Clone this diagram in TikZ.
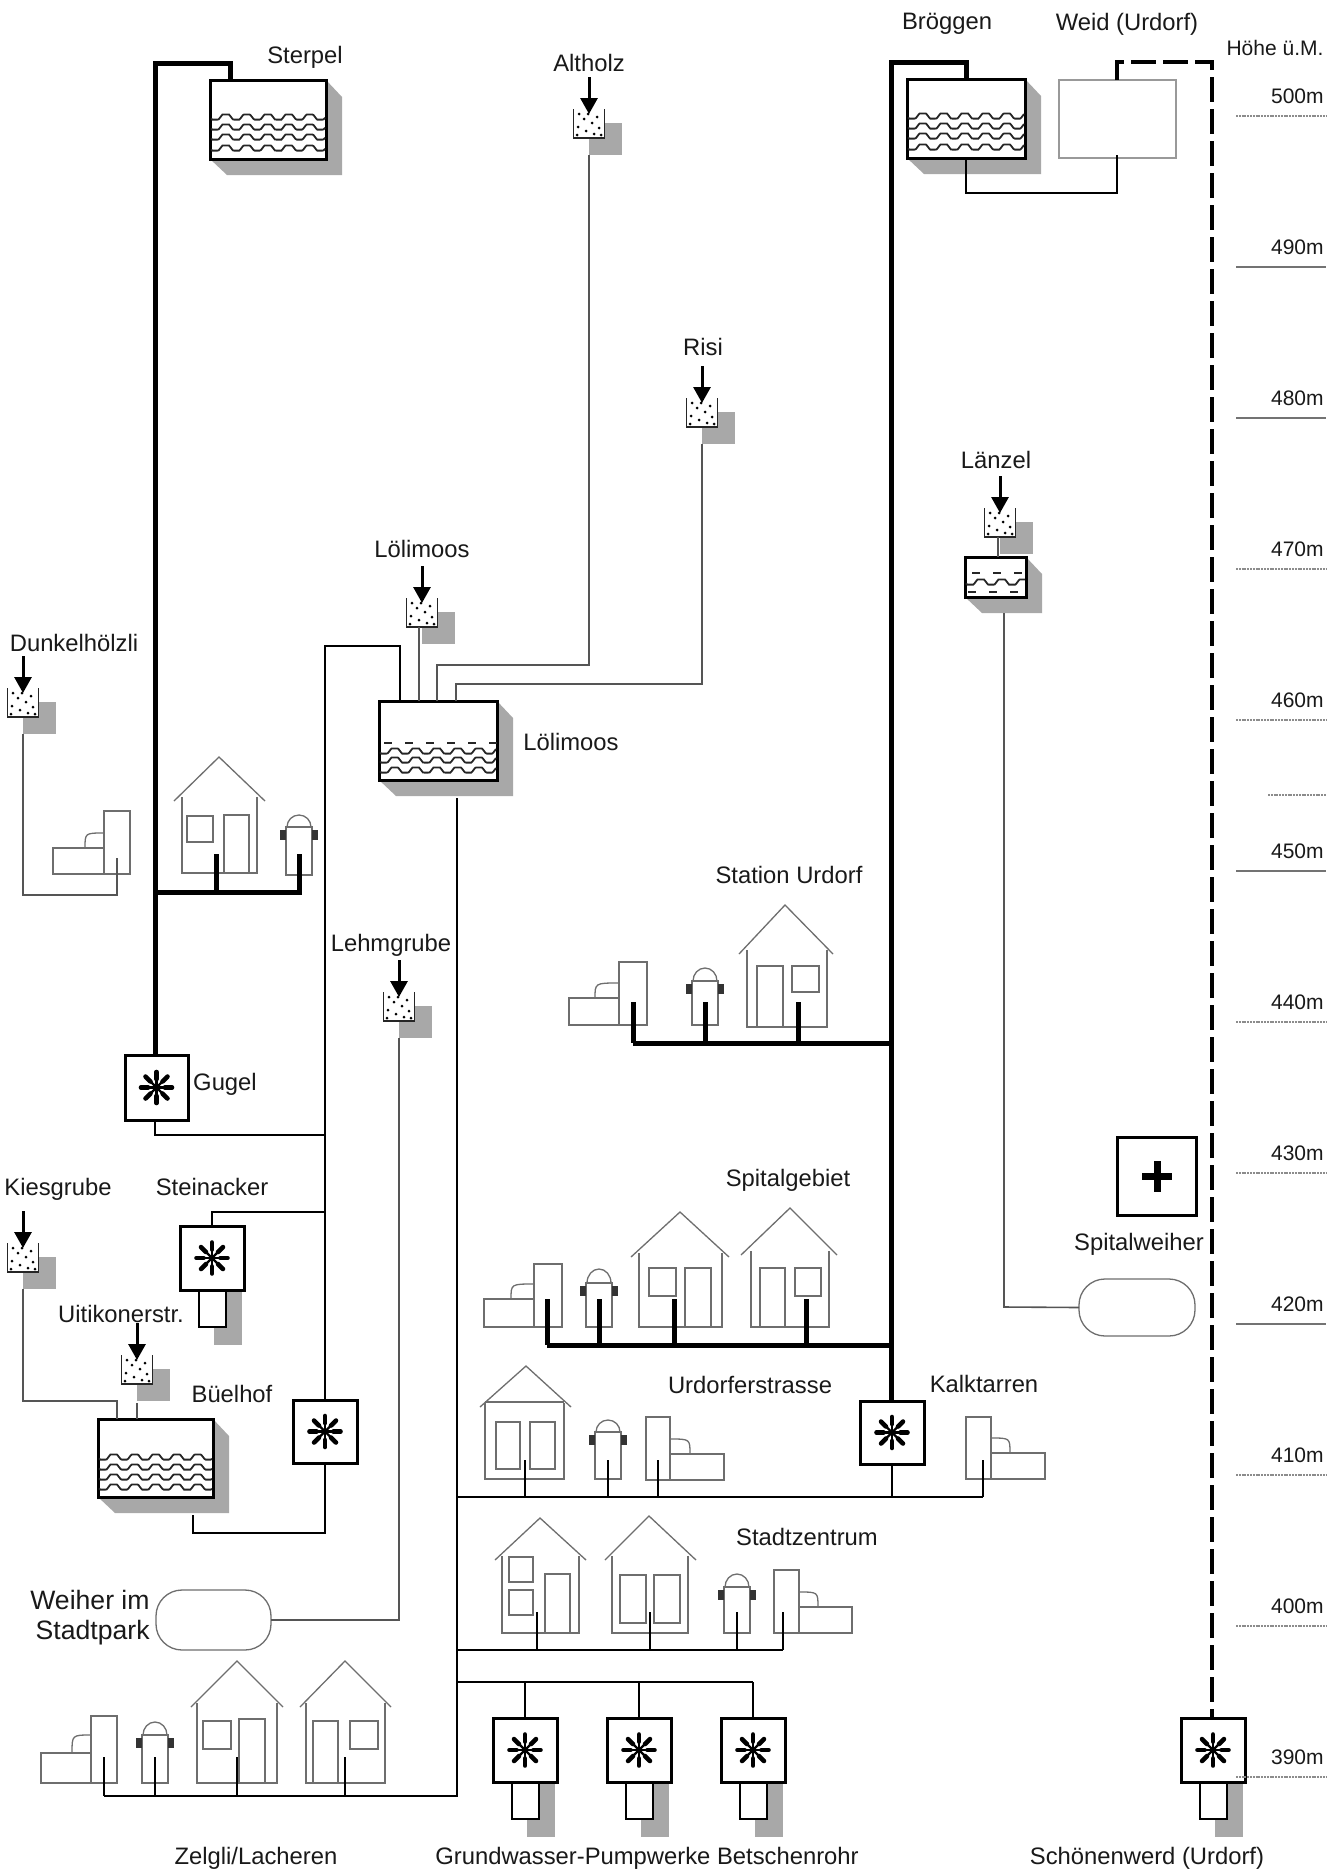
\documentclass[tikz,border=0pt]{standalone}
\usepackage{fontspec}
\setmainfont{Liberation Sans}
\usetikzlibrary{arrows.meta}
\newcommand\px{0.5pt}
\definecolor{shadowgray}{HTML}{A8A8A8}
\definecolor{sketch}{HTML}{6E6E6E}
\definecolor{thinline}{HTML}{555555}
\tikzset{
  lbl/.style={font=\fontsize{11.9pt}{13pt}\selectfont,inner sep=0pt,text=black!90},
  lblbig/.style={font=\fontsize{13.3pt}{16pt}\selectfont,inner sep=0pt,text=black!90},
  lblsmall/.style={font=\fontsize{10.5pt}{12pt}\selectfont,inner sep=0pt,text=black!90},
  pipe/.style={draw=black,line width=1.2pt,line join=miter},
  thickpipe/.style={draw=black,line width=2.5pt,line join=miter},
  graypipe/.style={draw=thinline,line width=0.8pt,line join=miter},
  dashpipe/.style={draw=black,line width=1.6pt,dash pattern=on 12.5pt off 3.5pt},
  sk/.style={draw=sketch,line width=0.65pt},
  tankbox/.style={draw=black,line width=1.5pt,fill=white,inner sep=0pt,outer sep=0pt},
  pumpbox/.style={draw=black,line width=1.5pt,fill=white,inner sep=0pt,outer sep=0pt},
  cupbox/.style={fill=white,inner sep=0pt,outer sep=0pt},
  wavy/.style={draw=black!85,line width=0.9pt},
  wavedash/.style={draw=black!85,line width=1pt,dash pattern=on 4pt off 6.5pt},
  pondbox/.style={draw=sketch,line width=0.65pt,fill=white,rounded corners=13pt,inner sep=0pt,outer sep=0pt},
  lvl/.style={draw=black!55,line width=0.65pt},
  lvldot/.style={draw=black!45,line width=0.7pt,dash pattern=on 1pt off 0.4pt},
  dropin/.style={draw=black,line width=1.5pt,-{Triangle[length=8pt,width=8.5pt]}},
}
% \TankBox{name}{x1}{y1}{x2}{y2}{wave offsets}
\newcommand\TankBox[6]{%
  \fill[shadowgray] (#4,#3) -- (#4+16,#3+17) -- (#4+16,#5+16) -- (#2+17,#5+16) -- (#2,#5) -- cycle;
  \node[tankbox,minimum width={(#4-#2)*\px},minimum height={(#5-#3)*\px}] (#1) at ({(#2+#4)/2},{(#3+#5)/2}) {};
  \foreach \w in {#6}{\draw[wavy] plot[domain=#2+1:#4-1,samples=90] (\x,{#3+\w+max(-2.6,min(2.6,4.5*sin(17.14*(\x-#2))))});}
}
% \Filter{name}{cx}{top}
\newcommand\Filter[3]{%
  \fill[shadowgray] (#2,#3+14) rectangle (#2+33,#3+46);
  \node[cupbox,minimum width=31*\px,minimum height=29*\px] (#1) at (#2,#3+14.5) {};
  \draw[draw=black!85,line width=0.7pt] (#2-15.5,#3) -- (#2-15.5,#3+29) -- (#2+15.5,#3+29) -- (#2+15.5,#3);
  \foreach \dx/\dy in {-10/5,-5/10,-11/18,-3/22,3/14,8/8,10/19,5/25,-12/26,12/26,-1/5}{\fill[black] (#2+\dx,#3+\dy) circle[radius=1.5];}
  \coordinate (#1-in) at (#2,#3-32);
  \draw[dropin] (#1-in) -- (#2,#3+5);
}
% \Star{node}
\newcommand\Star[1]{%
  \begin{scope}[shift={(#1.center)}]
    \foreach \a in {0,45,...,315}{%
      \draw[black,line width=1.1pt] (0,0) -- (\a:17);
      \draw[black,line width=2.3pt,line cap=round] (\a:8.5) -- (\a:15.5);}
  \end{scope}
}
% \Pump{name}{x1}{y1}{x2}{y2}
\newcommand\Pump[5]{%
  \node[pumpbox,minimum width={(#4-#2)*\px},minimum height={(#5-#3)*\px}] (#1) at ({(#2+#4)/2},{(#3+#5)/2}) {};
  \Star{#1}
}
% \WellPump{name}{x1}{y1}  (64 square box with well shaft under it)
\newcommand\WellPump[3]{%
  \fill[shadowgray] (#2+34,#3+64) rectangle (#2+62,#3+119);
  \draw[draw=black,line width=1.4pt,fill=white] (#2+19,#3+64) rectangle (#2+46,#3+101);
  \Pump{#1}{#2}{#3}{#2+64}{#3+64}
}
% \House{apexx}{apexy}{eaveL}{eaveR}{eaveY}{wallL}{wallR}{bottom}
\newcommand\House[8]{%
  \draw[sk] (#3,#5) -- (#1,#2) -- (#4,#5);
  \draw[sk] (#6,#5-4) -- (#6,#8) -- (#7,#8) -- (#7,#5-4);
}
\newcommand\Win[4]{\draw[sk] (#1,#2) rectangle (#3,#4);}
% \Hydrant{cx}{dometop}{bodytop}{bottom}
\newcommand\Hydrant[4]{%
  \draw[sk] (#1-13,#3) rectangle (#1+13,#4);
  \draw[sk] (#1-12,#3) arc[start angle=180,end angle=360,x radius=12,y radius=#3-#2];
  \fill[black!80] (#1-19,#3+3) rectangle (#1-13,#3+13);
  \fill[black!80] (#1+13,#3+3) rectangle (#1+19,#3+13);
}
% \Plant{tallL}{tallR}{tallTop}{lowFar}{lowNear}{lowTop}{bottom}{arcx}{arcTop}
\newcommand\Plant[9]{%
  \draw[sk] (#1,#3) rectangle (#2,#7);
  \draw[sk] (#4,#6) rectangle (#5,#7);
  \draw[sk] (#8,#6) .. controls (#8,#9) .. (#5,#9);
}
\begin{document}
\begin{tikzpicture}[x=0.5pt,y=-0.5pt,line cap=butt]
\useasboundingbox[fill=white] (0,0) rectangle (1341,1874);

%% ---------- storage tanks
\TankBox{tSterpel}{210}{80}{326}{159}{37,47,57,68}
\TankBox{tLoelimoos}{379}{701}{497}{780}{50,59,69}
\draw[wavedash] (384,743) -- (497,743);
\TankBox{tBuelhof}{98}{1419}{213}{1497}{38,48,58,68}
\TankBox{tBroeggen}{907}{79}{1025}{158}{37,47,57,68}
\node[draw=black!40,line width=0.9pt,fill=white,inner sep=0pt,outer sep=0pt,minimum width=117*\px,minimum height=78*\px] (tWeid) at (1117.5,119) {};

%% ---------- filters
\Filter{fAltholz}{589}{109}
\Filter{fRisi}{702}{398}
\Filter{fLoelimoos}{422}{598}
\Filter{fDunkel}{23}{688}
\Filter{fLehm}{399}{992}
\Filter{fLaenzel}{1000}{508}
\Filter{fKies}{23}{1243}
\Filter{fUitikon}{137}{1355}
\TankBox{tLaenzel}{965}{557}{1026}{597}{25}
\draw[wavedash] (972,573) -- (1026,573);
\draw[wavedash] (968,592) -- (1026,592);

%% ---------- ponds and Spital box
\node[pondbox,minimum width=116*\px,minimum height=57*\px] (pdSpital) at (1137,1307.5) {};
\node[pondbox,minimum width=115*\px,minimum height=60*\px] (pdStadt) at (213.5,1620) {};
\node[draw=black,line width=1.5pt,inner sep=0pt,minimum width=79*\px,minimum height=78*\px] (bSpital) at (1156.5,1176) {};
\fill[black] (1142,1173) rectangle (1172,1180);
\fill[black] (1153.5,1161) rectangle (1160.5,1192);

%% ---------- pumps
\Pump{pGugel}{125}{1055}{188}{1120}
\Pump{pBuelhof}{293}{1400}{357}{1463}
\Pump{pKalk}{860}{1401}{924}{1464}
\WellPump{pStein}{180}{1226}
\WellPump{pG1}{493}{1718}
\WellPump{pG2}{607}{1718}
\WellPump{pG3}{721}{1718}
\WellPump{pSchoen}{1181}{1718}

%% ---------- buildings: Dunkelhölzli
\Plant{104}{130}{811}{53}{104}{848}{874}{85}{833}
\House{219}{757}{174}{265}{801}{182}{257}{873}
\Win{187}{816}{213}{842}\Win{224}{815}{249}{873}
\Hydrant{299}{815}{827}{875}

%% Station Urdorf
\Plant{619}{647}{962}{569}{619}{998}{1025}{595}{983}
\Hydrant{705}{968}{981}{1025}
\House{785}{905}{739}{833}{954}{747}{827}{1027}
\Win{757}{966}{783}{1027}\Win{792}{966}{819}{992}

%% Spitalgebiet
\Plant{534}{562}{1264}{484}{534}{1299}{1327}{511}{1284}
\Hydrant{599}{1269}{1283}{1327}
\House{680}{1212}{631}{729}{1257}{639}{722}{1327}
\Win{649}{1268}{676}{1296}\Win{685}{1268}{711}{1327}
\House{790}{1208}{741}{837}{1255}{751}{829}{1327}
\Win{760}{1268}{785}{1327}\Win{795}{1268}{821}{1296}

%% Urdorferstrasse
\House{526}{1366}{480}{571}{1407}{485}{564}{1479}
\draw[sk] (485,1402) -- (564,1402);
\Win{496}{1422}{520}{1469}\Win{530}{1422}{555}{1469}
\Hydrant{608}{1420}{1432}{1479}
\Plant{646}{670}{1417}{724}{670}{1454}{1480}{690}{1439}
\Plant{966}{991}{1417}{1045}{991}{1453}{1479}{1010}{1438}

%% Stadtzentrum
\House{540}{1518}{495}{586}{1560}{502}{579}{1633}
\Win{509}{1557}{533}{1582}\Win{509}{1590}{533}{1615}\Win{545}{1574}{570}{1633}
\House{649}{1516}{605}{696}{1560}{612}{688}{1633}
\Win{620}{1575}{646}{1623}\Win{654}{1575}{680}{1623}
\Hydrant{737}{1574}{1587}{1633}
\Plant{774}{799}{1570}{852}{799}{1607}{1633}{818}{1592}

%% Zelgli
\Plant{91}{117}{1716}{41}{91}{1753}{1783}{72}{1735}
\Hydrant{155}{1722}{1735}{1783}
\House{237}{1661}{191}{283}{1707}{197}{277}{1783}
\Win{203}{1721}{231}{1749}\Win{239}{1719}{265}{1783}
\House{345}{1661}{300}{391}{1707}{306}{385}{1783}
\Win{313}{1721}{338}{1783}\Win{350}{1721}{378}{1749}

%% ---------- connector anchors
\coordinate (jS1) at (155,63);
\coordinate (jS2) at (230,63);
\coordinate (jS3) at (230,80);
\coordinate (jGugelB) at (155,1135);
\coordinate (jMainB) at (325,1135);
\coordinate (jMainT) at (325,646);
\coordinate (jLoeT) at (400,646);
\coordinate (jLoeIn) at (400,701);
\coordinate (jSteinT) at (212,1212);
\coordinate (jSteinM) at (325,1212);
\coordinate (jBueOut) at (193,1515);
\coordinate (jBueC) at (193,1533);
\coordinate (jBueD) at (325,1533);
\coordinate (jHydB) at (299,892);
\coordinate (jHouB) at (216,892);
\coordinate (jSterpB) at (155,892);
\coordinate (jHouT) at (216,854);
\coordinate (jHydT) at (299,854);
\coordinate (jLoeOut) at (457,798);
\coordinate (jLoeEnd) at (457,1796);
\coordinate (jUrdL) at (457,1497);
\coordinate (jUrdR) at (983,1497);
\coordinate (jStaL) at (457,1650);
\coordinate (jStaR) at (783,1650);
\coordinate (jGruL) at (457,1682);
\coordinate (jGruR) at (753,1682);
\coordinate (jZelR) at (104,1796);

%% ---------- thick pipes
\draw[thickpipe] (pGugel.north -| jS1) -- (jS1) -- (jS2) -- (jS3);
\draw[thickpipe] (jSterpB) -- (jHydB) -- (jHydT);
\draw[thickpipe] (jHouB) -- (jHouT);
\coordinate (jB1) at (891,62);
\coordinate (jB2) at (966,62);
\coordinate (jB3) at (966,79);
\coordinate (jKalkT) at (891,1401);
\draw[thickpipe] (jKalkT) -- (jB1) -- (jB2) -- (jB3);
% Station Urdorf
\coordinate (jSU1) at (633,1043);\coordinate (jSU2) at (891,1043);
\draw[thickpipe] (jSU1) -- (jSU2);
\coordinate (jSUa) at (633,1002);\coordinate (jSUb) at (705,1002);\coordinate (jSUc) at (798,1002);
\draw[thickpipe] (jSUa) -- (jSU1);
\draw[thickpipe] (jSUb) -- (jSUb |- jSU1);
\draw[thickpipe] (jSUc) -- (jSUc |- jSU1);
% Spitalgebiet
\coordinate (jSG1) at (547,1345);\coordinate (jSG2) at (891,1345);
\draw[thickpipe] (jSG1) -- (jSG2);
\coordinate (jSGa) at (547,1299);\coordinate (jSGb) at (599,1299);\coordinate (jSGc) at (674,1299);\coordinate (jSGd) at (806,1299);
\draw[thickpipe] (jSGa) -- (jSG1);
\draw[thickpipe] (jSGb) -- (jSGb |- jSG1);
\draw[thickpipe] (jSGc) -- (jSGc |- jSG1);
\draw[thickpipe] (jSGd) -- (jSGd |- jSG1);

%% ---------- normal pipes
\draw[pipe] (pGugel.south -| jGugelB) -- (jGugelB) -- (jMainB);
\draw[pipe] (jLoeIn) -- (jLoeT) -- (jMainT) -- (pBuelhof.north);
\draw[pipe] (pStein.north -| jSteinT) -- (jSteinT) -- (jSteinM);
\draw[pipe] (jBueOut) -- (jBueC) -- (jBueD) -- (pBuelhof.south);
\draw[pipe] (jLoeOut) -- (jLoeEnd) -- (jZelR);
\draw[pipe] (jUrdL) -- (jUrdR);
\draw[pipe] (jStaL) -- (jStaR);
\draw[pipe] (jGruL) -- (jGruR);
\draw[pipe] (jGruL -| pG1.north) -- (pG1.north);
\draw[pipe] (jGruL -| pG2.north) -- (pG2.north);
\draw[pipe] (jGruR) -- (pG3.north);
\draw[pipe] (pKalk.south) -- (pKalk.south |- jUrdL);
% stubs
\foreach \sx in {525,608,658,983}{\draw[pipe] (\sx,1460) -- (\sx,1497);}
\foreach \sx in {537,650,737,783}{\draw[pipe] (\sx,1612) -- (\sx,1650);}
\foreach \sx in {104,155,237,345}{\draw[pipe] (\sx,1757) -- (\sx,1796);}
% Bröggen - Weid
\coordinate (jW1) at (966,193);\coordinate (jW2) at (1117,193);\coordinate (jW3) at (1117,155);
\draw[pipe] (jB3 |- tBroeggen.south) -- (jW1) -- (jW2) -- (jW3);
\coordinate (jD1) at (1117,80);\coordinate (jD2) at (1117,62);\coordinate (jD3) at (1212,62);
\draw[dashpipe] (jD1) -- (jD2) -- (jD3) -- (pSchoen.north -| jD3);

%% ---------- gray pipes
\coordinate (jAl) at (589,665);\coordinate (jAl2) at (437,665);
\coordinate (jRi) at (702,684);\coordinate (jRi2) at (456,684);
\draw[graypipe] (fAltholz.south |- 0,155) -- (jAl) -- (jAl2) -- (jAl2 |- tLoelimoos.north);
\draw[graypipe] (fRisi.south |- 0,444) -- (jRi) -- (jRi2) -- (jRi2 |- tLoelimoos.north);
\coordinate (jLoF) at (419,627);
\draw[graypipe] (jLoF) -- (jLoF |- tLoelimoos.north);
\coordinate (jDu1) at (23,895);\coordinate (jDu2) at (117,895);\coordinate (jDu3) at (117,858);
\draw[graypipe] (fDunkel.south |- 0,734) -- (jDu1) -- (jDu2) -- (jDu3);
\coordinate (jKi1) at (23,1401);\coordinate (jKi2) at (117,1401);
\draw[graypipe] (fKies.south |- 0,1289) -- (jKi1) -- (jKi2) -- (jKi2 |- tBuelhof.north);
\draw[graypipe] (fUitikon.south |- 0,1403) -- (fUitikon.south |- tBuelhof.north);
\coordinate (jLe1) at (399,1620);
\draw[graypipe] (fLehm.south |- 0,1038) -- (jLe1) -- (pdStadt.east);
\coordinate (jLa1) at (1004,1307);
\draw[graypipe] (1004,613) -- (jLa1) -- (pdSpital.west);
\coordinate (jLaF) at (998,537);
\draw[graypipe] (jLaF) -- (jLaF |- tLaenzel.north);

%% ---------- labels
\node[lbl] (lSterpel) at (305,57) {Sterpel};
\node[lbl] (lAltholz) at (589,63) {Altholz};
\node[lbl] (lBroeggen) at (947,24) {Bröggen};
\node[lbl] (lWeid) at (1127,24) {Weid (Urdorf)};
\node[lbl] (lRisi) at (703,347) {Risi};
\node[lbl] (lLaenzel) at (996,460) {Länzel};
\node[lbl] (lLoeli) at (422,549) {Lölimoos};
\node[lbl] (lLoeli2) at (571,742) {Lölimoos};
\node[lbl] (lDunkel) at (74,643) {Dunkelhölzli};
\node[lbl] (lStation) at (789,875) {Station Urdorf};
\node[lbl] (lLehm) at (391,945) {Lehmgrube};
\node[lbl] (lGugel) at (225,1084) {Gugel};
\node[lbl] (lSpitalg) at (788,1180) {Spitalgebiet};
\node[lbl] (lKies) at (58,1189) {Kiesgrube};
\node[lbl] (lStein) at (212,1187) {Steinacker};
\node[lbl] (lSpitalw) at (1139,1244) {Spitalweiher};
\node[lbl] (lUiti) at (121,1314) {Uitikonerstr.};
\node[lbl] (lBuel) at (232,1394) {Büelhof};
\node[lbl] (lUrd) at (750,1385) {Urdorferstrasse};
\node[lbl] (lKalk) at (984,1384) {Kalktarren};
\node[lbl] (lStadt) at (807,1537) {Stadtzentrum};
\node[lblbig,anchor=east] (lWeiher1) at (150,1600) {Weiher im};
\node[lblbig,anchor=east] (lWeiher2) at (150,1633) {Stadtpark};
\node[lbl] (lZelgli) at (256,1858) {Zelgli/Lacheren};
\node[lbl] (lGrund) at (647,1858) {Grundwasser-Pumpwerke Betschenrohr};
\node[lbl] (lSchoen) at (1147,1858) {Schönenwerd (Urdorf)};
\node[lblsmall] (lHoehe) at (1275,48) {Höhe ü.M.};

%% ---------- height scale
\foreach \yy/\tt/\st in {116/500m/lvldot,267/490m/lvl,418/480m/lvl,569/470m/lvldot,720/460m/lvldot,871/450m/lvl,1022/440m/lvldot,1173/430m/lvldot,1324/420m/lvl,1475/410m/lvldot,1626/400m/lvldot,1777/390m/lvldot}{%
  \draw[\st] (1236,\yy) -- (1326,\yy);
  \node[lblsmall,anchor=east] at (1324,\yy-20) {\tt};
}
\draw[lvldot] (1268,795) -- (1326,795);
\end{tikzpicture}
\end{document}
